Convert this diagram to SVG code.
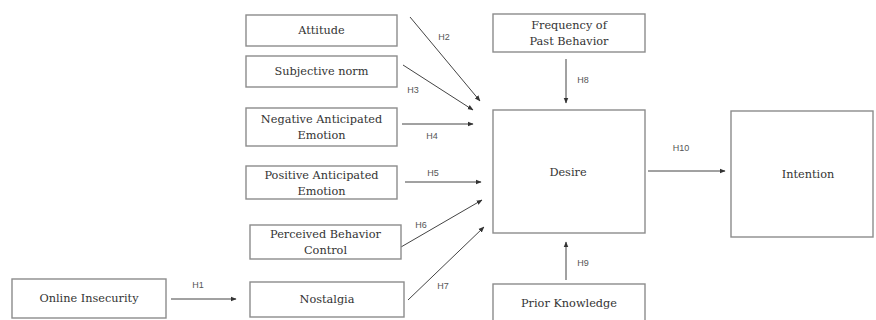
<svg xmlns="http://www.w3.org/2000/svg" width="876" height="320" viewBox="0 0 876 320">
<style>
.box{fill:#fff;stroke:#8c8c8c;stroke-width:1.4}
.t{font-family:"DejaVu Serif","Liberation Serif",serif;font-size:11.3px;fill:#333;text-anchor:middle}
.lbl{font-family:"Liberation Sans",Arial,sans-serif;font-size:9px;fill:#555;text-anchor:middle}
.c{stroke:#444;stroke-width:1;fill:none;marker-end:url(#ah)}
</style>
<defs>
<marker id="ah" viewBox="0 0 10 10" refX="9" refY="5" markerWidth="6" markerHeight="6" orient="auto" markerUnits="userSpaceOnUse">
<path d="M0,1 L10,5 L0,9 z" fill="#333"/>
</marker>
</defs>
<rect width="876" height="320" fill="#fff"/>
<g id="connectors">
<line class="c" x1="171" y1="299" x2="236" y2="299"/>
<line class="c" x1="410" y1="17" x2="480" y2="101"/>
<line class="c" x1="403" y1="65" x2="473" y2="110"/>
<line class="c" x1="402" y1="124" x2="473" y2="124"/>
<line class="c" x1="405" y1="182" x2="481" y2="182"/>
<line class="c" x1="401" y1="247" x2="482" y2="200"/>
<line class="c" x1="408" y1="300" x2="484" y2="227"/>
<line class="c" x1="566" y1="59" x2="566" y2="103"/>
<line class="c" x1="566" y1="280" x2="566" y2="242"/>
<line class="c" x1="648" y1="171" x2="725" y2="171"/>
<text class="lbl" x="198" y="288">H1</text>
<text class="lbl" x="444" y="40">H2</text>
<text class="lbl" x="413" y="93">H3</text>
<text class="lbl" x="432" y="139">H4</text>
<text class="lbl" x="433" y="176">H5</text>
<text class="lbl" x="421" y="228">H6</text>
<text class="lbl" x="443" y="289">H7</text>
<text class="lbl" x="583" y="83">H8</text>
<text class="lbl" x="583" y="266">H9</text>
<text class="lbl" x="681" y="151">H10</text>
</g>
<g id="online-insecurity"><rect class="box" x="12" y="279" width="154" height="39"/><text class="t" x="89" y="302">Online Insecurity</text></g>
<g id="attitude"><rect class="box" x="246" y="15" width="151" height="31"/><text class="t" x="321.5" y="34">Attitude</text></g>
<g id="subjective-norm"><rect class="box" x="246" y="56" width="151" height="31"/><text class="t" x="321.5" y="75">Subjective norm</text></g>
<g id="negative-emotion"><rect class="box" x="246" y="108" width="151" height="38"/><text class="t" x="321.5" y="123">Negative Anticipated</text><text class="t" x="321.5" y="139">Emotion</text></g>
<g id="positive-emotion"><rect class="box" x="246" y="166" width="151" height="33"/><text class="t" x="321.5" y="179">Positive Anticipated</text><text class="t" x="321.5" y="195">Emotion</text></g>
<g id="perceived-behavior-control"><rect class="box" x="250" y="225" width="151" height="34"/><text class="t" x="325.5" y="238">Perceived Behavior</text><text class="t" x="325.5" y="254">Control</text></g>
<g id="nostalgia"><rect class="box" x="250" y="282" width="154" height="35"/><text class="t" x="327" y="303">Nostalgia</text></g>
<g id="frequency"><rect class="box" x="493" y="14" width="152" height="38"/><text class="t" x="569" y="29">Frequency of</text><text class="t" x="569" y="45">Past Behavior</text></g>
<g id="desire"><rect class="box" x="493" y="110" width="152" height="123"/><text class="t" x="568" y="176">Desire</text></g>
<g id="intention"><rect class="box" x="731" y="111" width="142" height="126"/><text class="t" x="808" y="178">Intention</text></g>
<g id="prior-knowledge"><rect class="box" x="493" y="284" width="152" height="40"/><text class="t" x="569" y="307">Prior Knowledge</text></g>
</svg>
